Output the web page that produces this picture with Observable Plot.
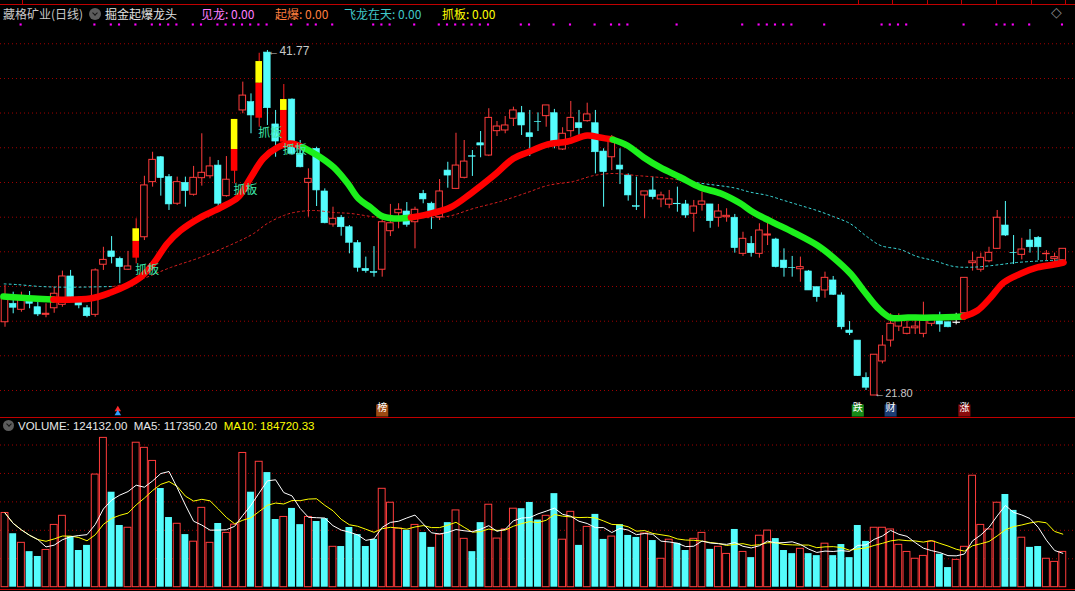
<!DOCTYPE html>
<html><head><meta charset="utf-8">
<script src="https://cdn.jsdelivr.net/npm/d3@7"></script>
<script src="https://cdn.jsdelivr.net/npm/@observablehq/plot@0.6"></script>
<style>
html,body{margin:0;padding:0;background:#000;}
#wrap{position:relative;width:1075px;height:591px;background:#000;overflow:hidden;}
#main{position:absolute;left:0;top:0;}
#vol{position:absolute;left:0;top:417px;}
.abs{position:absolute;white-space:nowrap;}
.hd{top:6px;font-family:"Noto Sans CJK SC","Noto Sans",sans-serif;font-size:12px;line-height:15px;}
.vh{top:419px;font-family:"Liberation Sans",Arial,sans-serif;font-size:11.5px;line-height:14px;}
.icon{position:absolute;border-radius:50%;background:#5c5c5c;}
.icon::after{content:"";position:absolute;left:50%;top:40%;width:3px;height:3px;border-right:1.5px solid #151515;border-bottom:1.5px solid #151515;transform:translate(-50%,-50%) rotate(45deg);}
.hl{position:absolute;left:0;width:1075px;height:1px;background:#c00000;}
.tk{position:absolute;top:0;width:1px;height:4px;background:#c00000;}
</style></head>
<body><div id="wrap">
<div id="main"></div><div id="vol"></div>
<div class="hl" style="top:4px"></div>
<div class="tk" style="left:22px"></div>
<div class="tk" style="left:858px"></div><div class="tk" style="left:892px"></div>
<div class="tk" style="left:927px"></div><div class="tk" style="left:961px"></div>
<div class="tk" style="left:996px"></div><div class="tk" style="left:1031px"></div>
<div class="tk" style="left:1065px"></div>
<div class="hl" style="top:417px"></div>
<div class="hl" style="top:589px"></div>
<div class="abs hd" style="left:3px;color:#c8c8c8">藏格矿业(日线)</div>
<div class="icon" style="left:89px;top:8px;width:12px;height:12px"></div>
<div class="abs hd" style="left:105px;color:#e0e0e0">掘金起爆龙头</div>
<div class="abs hd" style="left:201px;color:#ff7fff">见龙: 0.00</div>
<div class="abs hd" style="left:275px;color:#ff7f3f">起爆: 0.00</div>
<div class="abs hd" style="left:344px;color:#40c8c8">飞龙在天: 0.00</div>
<div class="abs hd" style="left:442px;color:#ffff00">抓板: 0.00</div>
<div class="abs" style="left:1051px;top:4px;color:#8a8a8a;font:14px 'DejaVu Sans'">◇</div>
<div class="icon" style="left:3px;top:420px;width:11px;height:11px"></div>
<div class="abs vh" style="left:18px;color:#e8e8e8">VOLUME: 124132.00&nbsp; MA5: 117350.20&nbsp; <span style="color:#ffff00">MA10: 184720.33</span></div>
</div>
<script>
// ---------- data ----------
const O = [26.04,27.11,26.76,27.40,26.91,26.47,26.85,27.05,28.69,27.26,
26.85,26.47,29.37,30.14,29.71,29.08,29.75,30.96,34.15,35.59,
34.44,32.90,34.11,33.42,34.38,34.49,35.11,33.34,34.78,38.30,
38.78,37.85,41.65,37.49,36.46,38.93,35.79,34.11,36.08,33.61,
31.70,32.09,31.54,30.62,29.13,28.94,29.08,31.31,32.35,32.45,
31.83,33.47,32.90,32.12,34.82,33.76,34.40,35.65,36.40,35.69,
37.10,37.14,37.82,38.14,36.98,37.64,37.97,38.14,36.04,37.10,
37.56,37.68,37.56,35.92,35.59,35.11,34.53,32.76,33.38,33.67,
33.15,32.84,32.90,32.86,32.32,32.84,32.86,32.09,32.12,32.09,
30.00,30.58,30.00,31.06,30.83,29.61,29.19,29.11,28.98,28.07,
27.88,28.46,27.59,25.56,24.98,22.82,21.80,23.77,24.98,25.79,
25.37,25.69,25.37,25.95,26.10,26.04,26.04,26.56,29.46,29.08,
29.57,30.29,31.64,30.06,29.94,30.77,30.93,29.98,29.71,29.61];
const H = [28.17,27.78,27.78,27.82,27.20,27.11,28.07,29.00,29.04,27.49,
27.01,29.13,30.38,31.00,29.81,30.14,32.03,34.49,35.88,35.63,
34.59,34.44,34.44,35.06,36.95,35.59,35.40,35.63,37.78,39.94,
39.26,41.61,41.77,38.30,39.80,38.97,36.56,34.92,36.17,33.76,
32.70,32.22,31.64,30.77,29.81,30.42,31.93,32.86,32.90,32.97,
32.70,33.67,32.99,34.30,35.30,36.98,36.56,35.98,37.08,38.40,
37.66,37.95,38.49,38.53,38.30,38.16,38.59,38.36,37.30,38.82,
38.30,38.72,38.30,36.08,36.85,36.08,34.63,34.44,33.61,34.44,
33.57,33.67,33.86,33.09,33.09,33.57,32.86,32.86,32.61,32.28,
31.25,31.00,31.74,31.89,30.90,30.29,29.85,29.81,29.04,28.07,
28.94,28.69,27.74,26.08,24.98,23.11,24.16,25.27,26.53,26.53,
26.10,26.14,27.20,26.33,26.62,26.04,26.56,28.61,30.09,30.04,
30.38,32.51,33.03,31.06,30.90,31.41,31.00,30.19,30.04,30.29];
const L = [25.75,26.53,26.62,26.82,26.37,26.30,26.56,26.91,27.34,26.82,
26.30,26.33,29.04,29.42,28.27,29.04,29.42,30.77,33.86,33.34,
32.51,32.80,32.70,33.34,33.92,34.34,32.41,33.28,34.05,38.11,
36.95,37.33,37.43,35.59,36.37,35.69,34.98,32.12,32.74,31.74,
31.54,31.02,30.00,28.94,28.88,28.65,28.65,31.00,31.45,31.54,
30.29,32.90,31.41,31.93,33.80,33.72,34.34,34.48,35.56,35.63,
36.79,36.95,37.37,36.85,35.63,37.08,37.33,36.08,35.98,36.75,
36.79,37.62,34.63,32.70,34.82,34.01,33.05,32.51,32.03,33.13,
32.67,32.61,32.41,32.06,31.25,32.47,31.48,31.54,31.83,30.04,
29.85,29.81,29.75,30.48,29.19,28.65,28.65,28.36,27.88,27.20,
27.43,27.59,25.60,25.27,22.90,22.09,21.80,23.63,24.60,25.50,
25.31,25.33,25.14,25.79,25.46,25.72,25.89,26.33,29.00,28.94,
29.48,30.25,31.00,29.38,29.65,30.04,29.61,29.61,29.52,29.61];
const C = [27.40,26.88,27.49,27.11,26.49,26.53,27.69,28.69,27.49,27.01,
26.39,29.04,29.65,29.81,29.23,29.27,31.45,33.96,35.44,34.38,
32.86,34.15,33.63,34.40,34.69,35.06,32.90,34.29,37.78,39.16,
38.01,41.13,38.43,36.50,38.93,35.79,35.01,34.34,33.67,31.77,
32.03,31.54,30.64,29.19,29.00,28.90,31.83,31.77,32.55,31.68,
32.55,33.15,32.47,33.61,34.53,35.11,35.34,35.62,36.27,37.87,
37.37,37.43,38.30,37.43,36.75,37.62,38.59,36.46,36.95,37.87,
37.27,38.07,35.88,34.73,36.50,34.88,33.38,32.72,33.61,33.28,
33.38,33.15,32.87,32.22,32.74,33.03,31.89,32.45,32.20,30.33,
30.87,30.04,31.35,31.12,29.23,29.17,29.17,29.23,27.88,27.49,
28.61,27.63,25.75,25.41,22.92,22.25,24.16,24.69,25.95,26.14,
25.72,25.79,26.14,26.20,25.91,25.75,26.04,28.61,29.56,29.77,
30.06,32.09,31.06,30.04,30.25,30.38,30.38,30.00,29.81,30.29];
const VOL = [261000,188000,156000,125000,108000,131000,219000,251000,178000,129000,
147000,396000,525000,334000,217000,209000,508000,490000,444000,347000,
245000,223000,185000,160000,279000,156000,224000,191000,220000,472000,
334000,441000,403000,238000,247000,277000,220000,247000,231000,241000,
142000,143000,210000,185000,143000,168000,346000,297000,206000,200000,
219000,192000,140000,185000,227000,270000,170000,125000,227000,290000,
171000,203000,276000,276000,298000,236000,251000,329000,167000,265000,
147000,212000,256000,168000,178000,220000,182000,175000,189000,164000,
100000,167000,154000,129000,170000,191000,133000,142000,117000,203000,
124000,104000,181000,199000,171000,129000,118000,135000,118000,111000,
153000,111000,150000,104000,217000,161000,209000,209000,203000,149000,
124000,100000,110000,160000,116000,69000,96000,142000,392000,219000,
203000,297000,326000,270000,174000,140000,143000,100000,89000,124132];

// signal candles (yellow/red) and the level where yellow starts
const SIG_IDX = [16, 28, 31, 34];
const SIG_MID = [30.72, 36.04, 39.88, 38.30];
// "抓板" labels
const ZB_IDX = [16, 28, 31, 34];
// magenta dots row
const DOTS = [2,11,13,14,16,18,19,20,21,23,24,26,27,28,29,30,31,32,35,37,38,40,45,46,47,50,53,54,55,56,57,58,59,63,64,67,69,72,74,75,76,82,90,92,93,94,95,96,100,107,108,109,110,117,121,122,123,125,129];
// bottom markers
const MARK_IDX = [46, 104, 108, 117];
const MARK_TXT = ["榜", "跌", "财", "涨"];
const ICON_IDX = [14];
// thick trend line (read samples) and its colour runs
const THICK_I = [-0.2,3.5,5.9,10.4,12.9,14.9,16.5,18.1,19.8,21.4,23.8,26.3,28.4,29.9,31.5,33.2,34.8,36.4,38.5,40.1,41.8,43.1,44.6,45.8,47.4,49.5,51.5,54.3,56.8,59.6,62.0,63.7,66.2,68.6,71.0,72.6,74.1,75.9,77.9,79.9,82.4,84.8,87.3,89.7,91.3,93.7,96.2,99.1,101.0,103.1,104.7,106.4,108.0,110.1,113.2,116.9,118.6,120.2,121.8,123.9,125.9,127.9,129.1];
const THICK_V = [27.53,27.41,27.36,27.41,27.76,28.17,28.63,29.44,30.60,31.35,32.10,32.68,33.26,34.36,35.52,36.15,36.39,36.15,35.58,35.00,34.07,33.20,32.68,32.22,32.05,32.10,32.28,32.68,33.49,34.53,35.52,35.87,36.33,36.50,36.85,36.73,36.62,36.27,35.58,35.00,34.42,33.84,33.49,32.91,32.39,31.81,31.23,30.48,29.79,28.86,27.88,26.89,26.31,26.31,26.31,26.37,26.72,27.47,28.34,28.86,29.21,29.38,29.50];
const THICK_RUNS = [["g",2],["r",15],["g",8],["r",11],["g",19],["r",8]];
// long dotted average (read samples) and its colour runs
const LONG_I = [-0.1,1.5,4.3,7.6,13.2,15.9,20.2,23.8,27.9,30.3,32.0,34.0,35.2,37.6,40.1,42.1,45.8,49.5,53.9,57.1,60.4,63.7,66.2,69.3,71.8,74.2,77.1,79.9,82.0,84.8,88.9,90.9,93.0,95.0,97.0,99.0,101.0,103.1,105.1,106.8,109.2,111.2,113.3,115.7,118.1,121.4,123.0,125.5,129.1];
const LONG_V = [28.26,28.22,28.11,28.07,28.11,28.40,29.21,29.79,30.60,31.17,31.76,32.22,32.39,32.51,32.39,32.34,32.10,32.10,32.16,32.62,33.03,33.55,33.96,34.19,34.53,34.65,34.53,34.42,34.30,34.09,33.82,33.57,33.38,33.09,32.80,32.51,32.16,31.74,31.00,30.48,30.25,29.85,29.61,29.27,29.23,29.38,29.48,29.57,29.65];
const LONG_RUNS = [["c",4],["r",24],["c",21]];
// price grid levels and volume grid levels
const GRID_P = [42.16,40.15,38.15,36.14,34.13,32.12,30.12,28.11,26.10,24.10,22.09];
const GRID_V = [100000,200000,300000,400000,500000];

// ---------- build ----------
const RED = "#ff3c3c", CYAN = "#54fcfc", WHITE = "#ffffff";
const N = O.length;
const candles = d3.range(N).map(i => ({i, o:O[i], h:H[i], l:L[i], c:C[i]}));
const up = candles.filter(d => d.c > d.o && !SIG_IDX.includes(d.i));
const dn = candles.filter(d => d.c < d.o);
const flat = candles.filter(d => d.c === d.o);
const wickCol = d => SIG_IDX.includes(d.i) ? "#ff2020" : d.c > d.o ? RED : d.c < d.o ? CYAN : WHITE;
const sig = SIG_IDX.map((i, k) => ({i, o:O[i], c:C[i], m:SIG_MID[k]}));

function segs(I, V, runs, colors) {
  const cols = runs.flatMap(([c, n]) => Array(n).fill(c));
  const out = []; let s = -1, prev = null;
  for (let k = 0; k < I.length; k++) {
    const c = cols[k] ?? cols[cols.length - 1];
    if (c !== prev) {
      if (s >= 0) out.push({i:I[k], v:V[k], s, col:colors[prev]});
      s++; prev = c;
    }
    out.push({i:I[k], v:V[k], s, col:colors[c]});
  }
  return out;
}
const thick = segs(THICK_I, THICK_V, THICK_RUNS, {g:"#1cf01c", r:"#ff0000"});
const longL = segs(LONG_I, LONG_V, LONG_RUNS, {c:"#3ce0e0", r:"#e02020"});

const xs = {domain: [-0.549, 130.55], axis: null};
const hw = 0.4;
const markCol = {"榜":"#9c4a12", "跌":"#178a17", "财":"#1c3c74", "涨":"#8a0c0c"};
const hiI = d3.maxIndex(H), loI = d3.minIndex(L);

const main = Plot.plot({
  width: 1075, height: 418, margin: 0,
  style: {background: "transparent", overflow: "visible"},
  x: xs, y: {domain: [20.469, 44.664], axis: null},
  color: {type: "identity"},
  marks: [
    Plot.ruleY(GRID_P, {stroke: "#a00000", strokeDasharray: "1,3"}),
    Plot.ruleX(candles, {x: "i", y1: "l", y2: "h", stroke: wickCol}),
    Plot.rect(up, {x1: d => d.i - hw, x2: d => d.i + hw, y1: "o", y2: "c", fill: "#000", stroke: RED}),
    Plot.rect(dn, {x1: d => d.i - hw, x2: d => d.i + hw, y1: "o", y2: "c", fill: CYAN, stroke: CYAN, strokeWidth: 0.6}),
    Plot.link(flat, {x1: d => d.i - hw - 0.05, x2: d => d.i + hw + 0.05, y1: "o", y2: "o", stroke: WHITE, strokeWidth: 1.2}),
    Plot.line(longL, {x: "i", y: "v", z: "s", stroke: "col", strokeWidth: 1, strokeDasharray: "2,3", curve: "catmull-rom"}),
    Plot.line(thick, {x: "i", y: "v", z: "s", stroke: "col", strokeWidth: 6.5, strokeLinecap: "round", curve: "catmull-rom"}),
    Plot.rect(sig, {x1: d => d.i - hw, x2: d => d.i + hw, y1: "o", y2: "m", fill: "#ff0000"}),
    Plot.rect(sig, {x1: d => d.i - hw, x2: d => d.i + hw, y1: "m", y2: "c", fill: "#ffff00"}),
    Plot.text(ZB_IDX, {x: d => d, y: d => L[d], text: () => "抓板", textAnchor: "start", dx: -1, dy: 6, fill: "#3ee6aa", fontSize: 12, fontFamily: "Noto Sans CJK SC"}),
    Plot.text([hiI], {x: d => d, y: d => H[d], text: d => "←" + H[d].toFixed(2), textAnchor: "start", dy: 1, fill: "#c8c8c8", fontSize: 12, fontFamily: "Liberation Sans"}),
    Plot.text([loI], {x: d => d, y: d => L[d], text: d => "←" + L[d].toFixed(2), textAnchor: "start", dy: -2.5, fill: "#c8c8c8", fontSize: 11, fontFamily: "Liberation Sans"}),
    Plot.dot(DOTS, {x: d => d, frameAnchor: "top", dy: 24, dx: -0.8, symbol: "square", r: 1.2, fill: "#ff00ff"}),
    Plot.dot(ICON_IDX, {x: d => d, frameAnchor: "bottom", dy: -9, dx: -2, symbol: "triangle", r: 2.4, fill: "#ff2a2a"}),
    Plot.dot(ICON_IDX, {x: d => d, frameAnchor: "bottom", dy: -5, dx: -2, symbol: "triangle", r: 2.4, fill: "#2aa0ff"}),
    Plot.dot(MARK_IDX, {x: d => d, frameAnchor: "bottom", dy: -8.0, symbol: "square", r: 6.8, fill: (d, k) => markCol[MARK_TXT[k]]}),
    Plot.text(MARK_IDX, {x: d => d, frameAnchor: "bottom", dy: -7.8, text: (d, k) => MARK_TXT[k], fill: "#ffffff", fontSize: 10, fontFamily: "Noto Sans CJK SC"})
  ]
});
document.getElementById("main").appendChild(main);

const vols = VOL.map((v, i) => ({i, v, up: C[i] >= O[i]}));
const ma = n => VOL.map((_, k) => ({i: k, v: d3.mean(VOL.slice(Math.max(0, k - n + 1), k + 1))}));
const vw = 0.42;
const volPlot = Plot.plot({
  width: 1075, height: 174, marginTop: 0, marginBottom: 4.3, marginLeft: 0, marginRight: 0,
  style: {background: "transparent", overflow: "visible"},
  x: xs, y: {domain: [0, 596700], axis: null},
  marks: [
    Plot.ruleY(GRID_V, {stroke: "#a00000", strokeDasharray: "1,3"}),
    Plot.rect(vols.filter(d => d.up), {x1: d => d.i - vw, x2: d => d.i + vw, y1: () => 0, y2: "v", fill: "#000", stroke: RED}),
    Plot.rect(vols.filter(d => !d.up), {x1: d => d.i - vw, x2: d => d.i + vw, y1: () => 0, y2: "v", fill: CYAN}),
    Plot.line(ma(10), {x: "i", y: "v", stroke: "#ffff00", strokeWidth: 1}),
    Plot.line(ma(5), {x: "i", y: "v", stroke: "#ffffff", strokeWidth: 1})
  ]
});
document.getElementById("vol").appendChild(volPlot);
</script>
</body></html>
